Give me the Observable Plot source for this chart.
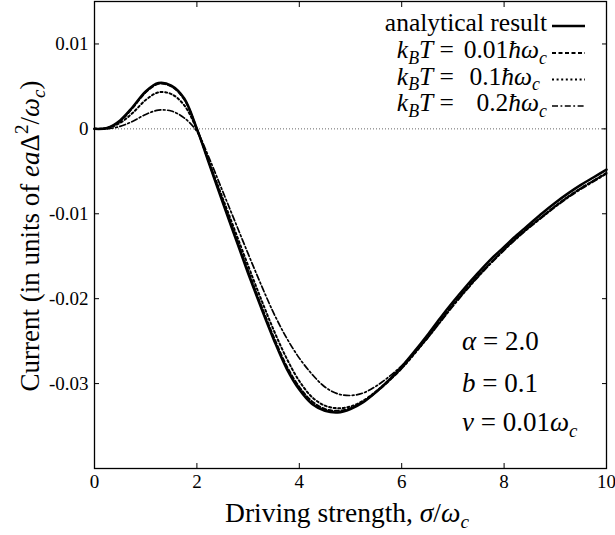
<!DOCTYPE html>
<html>
<head>
<meta charset="utf-8">
<script src="https://cdn.jsdelivr.net/npm/d3@7"></script>
<script src="https://cdn.jsdelivr.net/npm/@observablehq/plot@0.6"></script>
<style>
  html, body { margin: 0; padding: 0; background: white; }
  svg text { font-family: "Liberation Serif", "Times New Roman", "DejaVu Serif", serif !important; }
</style>
</head>
<body>
<div id="chart"></div>
<script>
// ---------- data ----------
const sigma = [0,0.25,0.5,0.75,1,1.25,1.5,1.75,2,2.25,2.5,2.75,3,3.25,3.5,3.75,4,4.25,4.5,4.75,5,5.25,5.5,5.75,6,6.25,6.5,6.75,7,7.25,7.5,7.75,8,8.25,8.5,8.75,9,9.25,9.5,9.75,10];
const analytical = [0,0.0001,0.0010,0.0026,0.0044,0.0054,0.0051,0.0036,0.0000,-0.0043,-0.0086,-0.0128,-0.0170,-0.0210,-0.0248,-0.0282,-0.0307,-0.0324,-0.0332,-0.0334,-0.0330,-0.0322,-0.0310,-0.0296,-0.0280,-0.0262,-0.0243,-0.0223,-0.0204,-0.0186,-0.0169,-0.0153,-0.0139,-0.0125,-0.0112,-0.0099,-0.0087,-0.0076,-0.0066,-0.0057,-0.0048];
const kT001 = [0,0.0001,0.0009,0.0025,0.0043,0.0053,0.0050,0.0035,0.0000,-0.0042,-0.0084,-0.0126,-0.0167,-0.0207,-0.0245,-0.0279,-0.0304,-0.0321,-0.0330,-0.0332,-0.0329,-0.0321,-0.0310,-0.0297,-0.0282,-0.0264,-0.0246,-0.0226,-0.0207,-0.0189,-0.0172,-0.0157,-0.0142,-0.0128,-0.0115,-0.0103,-0.0091,-0.0080,-0.0070,-0.0061,-0.0052];
const kT01 = [0,0.0001,0.0007,0.0019,0.0034,0.0043,0.0041,0.0028,-0.0001,-0.0041,-0.0081,-0.0121,-0.0161,-0.0200,-0.0237,-0.0270,-0.0297,-0.0316,-0.0326,-0.0329,-0.0327,-0.0320,-0.0309,-0.0296,-0.0282,-0.0265,-0.0246,-0.0227,-0.0208,-0.0190,-0.0173,-0.0157,-0.0142,-0.0128,-0.0115,-0.0103,-0.0091,-0.0080,-0.0070,-0.0061,-0.0052];
const kT02 = [0,0.0000,0.0003,0.0009,0.0017,0.0022,0.0021,0.0013,-0.0003,-0.0036,-0.0073,-0.0110,-0.0147,-0.0183,-0.0217,-0.0246,-0.0270,-0.0289,-0.0304,-0.0312,-0.0314,-0.0311,-0.0303,-0.0292,-0.0279,-0.0264,-0.0247,-0.0228,-0.0209,-0.0191,-0.0174,-0.0158,-0.0143,-0.0129,-0.0116,-0.0104,-0.0092,-0.0081,-0.0071,-0.0062,-0.0053];
const xTicks = [0,2,4,6,8,10];
const yTicks = [0.01,0,-0.01,-0.02,-0.03];
const yTickLabels = ["0.01","0","-0.01","-0.02","-0.03"];

// ---------- styles ----------
const FONT = "'Liberation Serif', 'Times New Roman', 'DejaVu Serif', serif";
const styles = {
  analytical: {strokeWidth: 2.5, strokeDasharray: null},
  kT001: {strokeWidth: 2, strokeDasharray: "4,2.5"},
  kT01: {strokeWidth: 2, strokeDasharray: "2,2.6"},
  kT02: {strokeWidth: 1.7, strokeDasharray: "6,2.5,1.8,2.5"}
};

function lineMark(vals, st) {
  return Plot.line(vals, {
    x: (d, i) => sigma[i], y: d => d,
    stroke: "black", strokeWidth: st.strokeWidth,
    strokeDasharray: st.strokeDasharray, curve: "catmull-rom"
  });
}

const svgEl = Plot.plot({
  width: 615, height: 535,
  marginLeft: 94, marginRight: 9, marginTop: 1, marginBottom: 67,
  style: {fontFamily: FONT, fontSize: "19px", color: "black", background: "white", overflow: "visible"},
  x: {domain: [0, 10]},
  y: {domain: [-0.04, 0.015]},
  marks: [
    Plot.ruleY([0], {stroke: "#666", strokeDasharray: "1,2", strokeWidth: 1}),
    lineMark(analytical, styles.analytical),
    lineMark(kT001, styles.kT001),
    lineMark(kT01, styles.kT01),
    lineMark(kT02, styles.kT02),
    Plot.axisX({anchor: "bottom", ticks: xTicks, tickSize: -5, tickPadding: 11, label: null, fontSize: 19}),
    Plot.axisX({anchor: "top", ticks: xTicks, tickSize: -5, tickFormat: () => "", label: null}),
    Plot.axisY({anchor: "left", ticks: yTicks, tickSize: -5, tickPadding: 11, label: null, fontSize: 19,
      tickFormat: d => yTickLabels[yTicks.findIndex(v => Math.abs(v - d) < 1e-9)]}),
    Plot.axisY({anchor: "right", ticks: yTicks, tickSize: -5, tickFormat: () => "", label: null}),
    Plot.frame({stroke: "black", strokeWidth: 1.3})
  ]
});
document.getElementById("chart").appendChild(svgEl);

// ---------- rich text helper ----------
const svg = d3.select(svgEl);
function rich(x, y, parts, size, anchor = "start", rotate = false) {
  const t = svg.append("text")
    .style("font-family", FONT).style("font-size", size + "px")
    .attr("text-anchor", anchor).attr("fill", "black");
  if (rotate) t.attr("transform", `translate(${x},${y}) rotate(-90)`);
  else t.attr("x", x).attr("y", y);
  let shift = 0;
  for (const p of parts) {
    const target = p.sub ? size * 0.22 : p.sup ? -size * 0.42 : 0;
    const ts = t.append("tspan").attr("dy", target - shift).text(p.t);
    shift = target;
    if (p.i) ts.style("font-style", "italic");
    if (p.sub || p.sup) ts.style("font-size", (size * 0.7) + "px");
  }
  return t;
}

// axis labels
rich(347, 522, [
  {t: "Driving strength, "}, {t: "σ", i: true}, {t: "/"}, {t: "ω", i: true}, {t: "c", i: true, sub: true}
], 27.5, "middle");
rich(39, 236, [
  {t: "Current (in units of "}, {t: "ea", i: true}, {t: "Δ"}, {t: "2", sup: true},
  {t: "/"}, {t: "ω", i: true}, {t: "c", i: true, sub: true}, {t: ")"}
], 27, "middle", true);

// legend
const LS = 25.5;
const legendRows = [
  {label: "analytical", base: 31, st: styles.analytical},
  {label: "k001", base: 58, st: styles.kT001, val: "0.01", end: 547},
  {label: "k01", base: 84.5, st: styles.kT01, val: "0.1", end: 540},
  {label: "k02", base: 111, st: styles.kT02, val: "0.2", end: 547}
];
for (const r of legendRows) {
  if (r.label === "analytical") {
    rich(547, r.base, [{t: "analytical result"}], LS, "end");
  } else {
    rich(454, r.base, [{t: "k", i: true}, {t: "B", i: true, sub: true}, {t: "T", i: true}, {t: " ="}], LS, "end");
    rich(r.end, r.base, [{t: r.val}, {t: "ħ", i: true}, {t: "ω", i: true}, {t: "c", i: true, sub: true}], LS, "end");
  }
  svg.append("line")
    .attr("x1", 552).attr("x2", 585)
    .attr("y1", r.base - 5).attr("y2", r.base - 5)
    .attr("stroke", "black").attr("stroke-width", r.st.strokeWidth)
    .attr("stroke-dasharray", r.st.strokeDasharray);
}

// parameter annotations
const AS = 27;
rich(462, 350, [{t: "α", i: true}, {t: " = 2.0"}], AS);
rich(462, 392, [{t: "b", i: true}, {t: " = 0.1"}], AS);
rich(462, 431, [{t: "ν", i: true}, {t: " = 0.01"}, {t: "ω", i: true}, {t: "c", i: true, sub: true}], AS);
</script>
</body>
</html>
